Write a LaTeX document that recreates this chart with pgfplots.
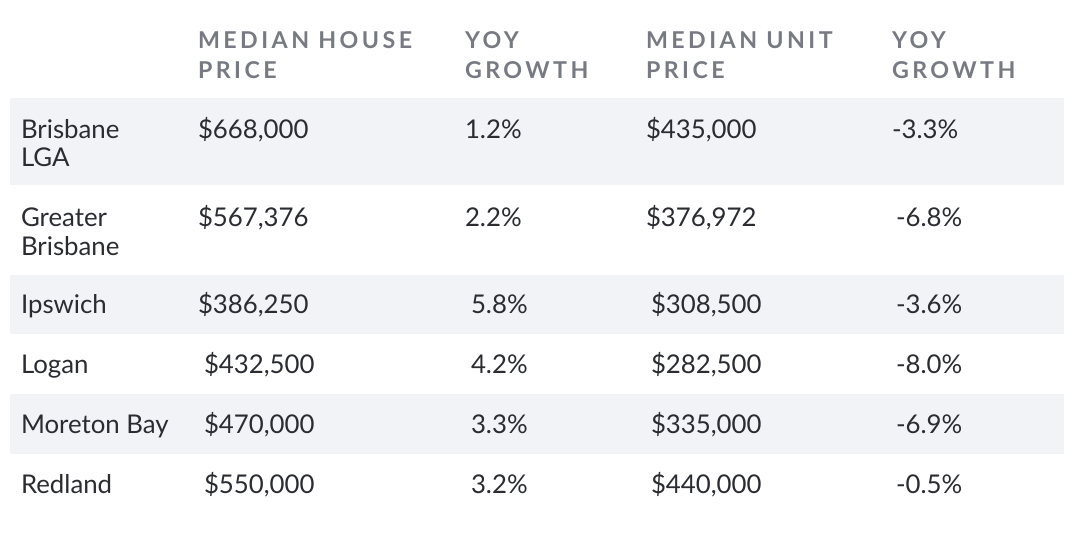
\documentclass[border=0pt]{standalone}
\usepackage{fontspec}
\setmainfont{Lato}
\newfontfamily\hdrfont[LetterSpace=15]{Lato}
\usepackage{pgfplots}
\pgfplotsset{compat=1.18}
\definecolor{txt}{HTML}{2A2C31}
\definecolor{hdr}{HTML}{777A82}
\definecolor{band}{HTML}{F1F3F7}
\newcommand{\bodyf}{\fontsize{25.8bp}{30bp}\selectfont}
\newcommand{\hdrf}{\hdrfont\bfseries\fontsize{23.2bp}{28bp}\selectfont}
\begin{document}
\begin{tikzpicture}
\begin{axis}[
  width=1080bp, height=552bp, scale only axis,
  xmin=0, xmax=1080, ymin=0, ymax=552, y dir=reverse,
  hide axis, clip=false,
  body/.style={draw=none, mark=none, nodes near coords, point meta=explicit symbolic,
    nodes near coords style={anchor=base west, inner sep=0pt, outer sep=0pt, font=\bodyf, text=txt}},
  head/.style={draw=none, mark=none, nodes near coords, point meta=explicit symbolic,
    nodes near coords style={anchor=base west, inner sep=0pt, outer sep=0pt, font=\hdrf, text=hdr}},
]
% row bands
\addplot[fill=band, draw=none] coordinates {(10,98) (1064,98) (1064,185) (10,185)} -- cycle;
\addplot[fill=band, draw=none] coordinates {(10,275) (1064,275) (1064,334) (10,334)} -- cycle;
\addplot[fill=band, draw=none] coordinates {(10,394) (1064,394) (1064,454) (10,454)} -- cycle;
% header
\addplot[head] table[meta=t, col sep=semicolon] {
x;y;t
198;48.3;MEDIAN HOUSE
198;78.3;PRICE
465;48.3;YOY
465;78.3;GROWTH
646;48.3;MEDIAN UNIT
646;78.3;PRICE
892;48.3;YOY
892;78.3;GROWTH
};
% region names
\addplot[body] table[meta=t, col sep=semicolon] {
x;y;t
21;138.3;Brisbane
21;166.7;LGA
21;226.7;Greater
21;255;Brisbane
21;313.3;Ipswich
21;373.3;Logan
21;433.3;Moreton Bay
21;493.3;Redland
};
% median house price
\addplot[body] table[meta=t, col sep=semicolon] {
x;y;t
198;138.3;\$668,000
198;226.7;\$567,376
198;313.3;\$386,250
204;373.3;\$432,500
204;433.3;\$470,000
204;493.3;\$550,000
};
% house yoy growth
\addplot[body] table[meta=t, col sep=semicolon] {
x;y;t
465;138.3;1.2\%
465;226.7;2.2\%
471;313.3;5.8\%
471;373.3;4.2\%
471;433.3;3.3\%
471;493.3;3.2\%
};
% median unit price
\addplot[body] table[meta=t, col sep=semicolon] {
x;y;t
646;138.3;\$435,000
646;226.7;\$376,972
651;313.3;\$308,500
651;373.3;\$282,500
651;433.3;\$335,000
651;493.3;\$440,000
};
% unit yoy growth
\addplot[body] table[meta=t, col sep=semicolon] {
x;y;t
892;138.3;-3.3\%
896;226.7;-6.8\%
896;313.3;-3.6\%
896;373.3;-8.0\%
896;433.3;-6.9\%
896;493.3;-0.5\%
};
\end{axis}
\pgfresetboundingbox
\path (current axis.south west) rectangle (current axis.north east);
\end{tikzpicture}
\end{document}
